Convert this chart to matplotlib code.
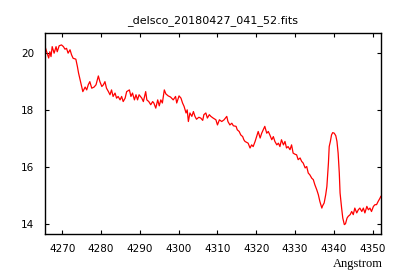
import matplotlib
matplotlib.use("Agg")
import matplotlib.pyplot as plt

# spectrum (wavelength in Angstrom, flux)
wave = [4265.7, 4266.1, 4266.5, 4266.8, 4267.1, 4267.4, 4267.9, 4268.4, 4268.7, 4269.2,
        4269.8, 4270.3, 4270.7, 4271.1, 4271.5, 4272.0, 4272.4, 4272.8, 4273.5, 4273.9,
        4274.2, 4274.6, 4275.0, 4275.3, 4275.9, 4276.3, 4276.7, 4277.1, 4277.6, 4278.2,
        4278.7, 4279.3, 4279.7, 4280.2, 4280.6, 4281.0, 4281.4, 4281.9, 4282.3, 4282.7,
        4283.1, 4283.6, 4284.0, 4284.4, 4284.9, 4285.3, 4285.7, 4286.2, 4286.6, 4287.3,
        4287.7, 4288.1, 4288.6, 4289.0, 4289.4, 4289.8, 4290.5, 4290.9, 4291.5, 4291.8,
        4292.3, 4292.8, 4293.3, 4293.6, 4294.1, 4294.6, 4295.0, 4295.4, 4295.8, 4296.3,
        4296.7, 4297.3, 4297.9, 4298.6, 4299.2, 4299.5, 4300.1, 4300.6, 4301.0, 4301.4,
        4301.9, 4302.2, 4302.5, 4302.9, 4303.4, 4303.8, 4304.2, 4304.6, 4305.2, 4305.7,
        4306.2, 4306.5, 4307.0, 4307.4, 4307.9, 4308.3, 4308.9, 4309.6, 4310.0, 4310.5,
        4311.1, 4311.7, 4312.4, 4312.7, 4313.2, 4313.7, 4314.1, 4314.8, 4315.1, 4315.6,
        4316.0, 4316.5, 4316.8, 4317.1, 4317.9, 4318.4, 4318.8, 4319.2, 4319.7, 4320.1,
        4320.5, 4321.0, 4321.4, 4321.8, 4322.2, 4322.7, 4323.1, 4323.5, 4324.0, 4324.4,
        4324.8, 4325.3, 4325.7, 4326.1, 4326.5, 4327.0, 4327.4, 4327.8, 4328.2, 4328.7,
        4329.1, 4329.5, 4330.0, 4330.4, 4330.8, 4331.3, 4331.7, 4332.1, 4332.6, 4333.0,
        4333.4, 4333.8, 4334.3, 4334.7, 4335.1, 4335.6, 4336.0, 4336.4, 4336.9, 4337.1,
        4337.5, 4337.9, 4338.2, 4338.6, 4338.8, 4339.1, 4339.4, 4339.7, 4340.1, 4340.5,
        4340.8, 4341.1, 4341.4, 4341.6, 4342.0, 4342.3, 4342.7, 4343.0, 4343.4, 4343.7,
        4344.2, 4344.6, 4345.0, 4345.4, 4345.9, 4346.3, 4346.7, 4347.2, 4347.6, 4348.0,
        4348.5, 4348.9, 4349.3, 4349.7, 4350.2, 4350.6, 4351.0, 4351.4, 4351.9, 4352.1]
flux = [20.17, 20.00, 19.83, 20.05, 19.88, 20.23, 20.00, 20.23, 20.05, 20.26,
        20.29, 20.23, 20.14, 20.17, 20.00, 20.12, 19.94, 19.82, 19.79, 19.53,
        19.30, 19.06, 18.83, 18.65, 18.81, 18.71, 18.89, 19.00, 18.77, 18.81,
        18.89, 19.20, 19.00, 18.83, 18.89, 19.00, 18.77, 18.65, 18.54, 18.71,
        18.48, 18.60, 18.42, 18.48, 18.36, 18.48, 18.30, 18.42, 18.65, 18.71,
        18.48, 18.60, 18.36, 18.54, 18.36, 18.54, 18.42, 18.30, 18.65, 18.36,
        18.30, 18.19, 18.30, 18.25, 18.07, 18.36, 18.15, 18.36, 18.25, 18.71,
        18.57, 18.50, 18.46, 18.36, 18.48, 18.25, 18.50, 18.42, 18.25, 18.13,
        17.90, 18.01, 17.60, 17.90, 17.78, 17.95, 17.78, 17.68, 17.75, 17.72,
        17.64, 17.84, 17.90, 17.72, 17.84, 17.78, 17.72, 17.66, 17.48, 17.66,
        17.60, 17.66, 17.78, 17.60, 17.48, 17.54, 17.45, 17.43, 17.31, 17.25,
        17.13, 17.07, 16.96, 16.90, 16.84, 16.67, 16.78, 16.72, 16.90, 17.07,
        17.25, 17.02, 17.19, 17.31, 17.43, 17.19, 17.25, 17.13, 16.96, 17.07,
        16.90, 16.78, 16.84, 16.72, 16.96, 16.78, 16.90, 16.67, 16.72, 16.61,
        16.78, 16.49, 16.45, 16.43, 16.26, 16.32, 16.20, 16.14, 15.97, 16.02,
        15.79, 15.73, 15.61, 15.56, 15.38, 15.20, 15.03, 14.79, 14.56, 14.64,
        14.74, 15.03, 15.32, 16.14, 16.72, 16.90, 17.13, 17.21, 17.19, 17.10,
        16.90, 16.49, 15.79, 15.09, 14.56, 14.21, 13.98, 14.01, 14.21, 14.27,
        14.33, 14.44, 14.33, 14.56, 14.39, 14.50, 14.56, 14.44, 14.56, 14.39,
        14.62, 14.50, 14.56, 14.44, 14.62, 14.68, 14.68, 14.79, 14.91, 14.97]

x_ticks = [4270, 4280, 4290, 4300, 4310, 4320, 4330, 4340, 4350]
y_ticks = [14, 16, 18, 20]

fig = plt.figure(figsize=(4, 2.8), dpi=100)
ax = fig.add_axes([0.1125, 0.1643, 0.84, 0.718])
ax.plot(wave, flux, color="red", lw=0.9)

ax.set_xlim(4265.55, 4352.15)
ax.set_ylim(13.65, 20.71)
ax.set_xticks(x_ticks)
ax.set_yticks(y_ticks)
ax.tick_params(direction="in", length=3, width=0.8, top=True, right=True,
               labelsize=7.5, colors="black")
ax.tick_params(axis="x", pad=7)
ax.tick_params(axis="y", pad=8)
for s in ax.spines.values():
    s.set_linewidth(1.0)

ax.set_title("_delsco_20180427_041_52.fits", fontsize=8, pad=7)
ax.text(1.005, -0.12, "Angstrom", transform=ax.transAxes, ha="right", va="top",
        family="Liberation Serif", fontsize=9)

fig.savefig("out.png", dpi=100)
